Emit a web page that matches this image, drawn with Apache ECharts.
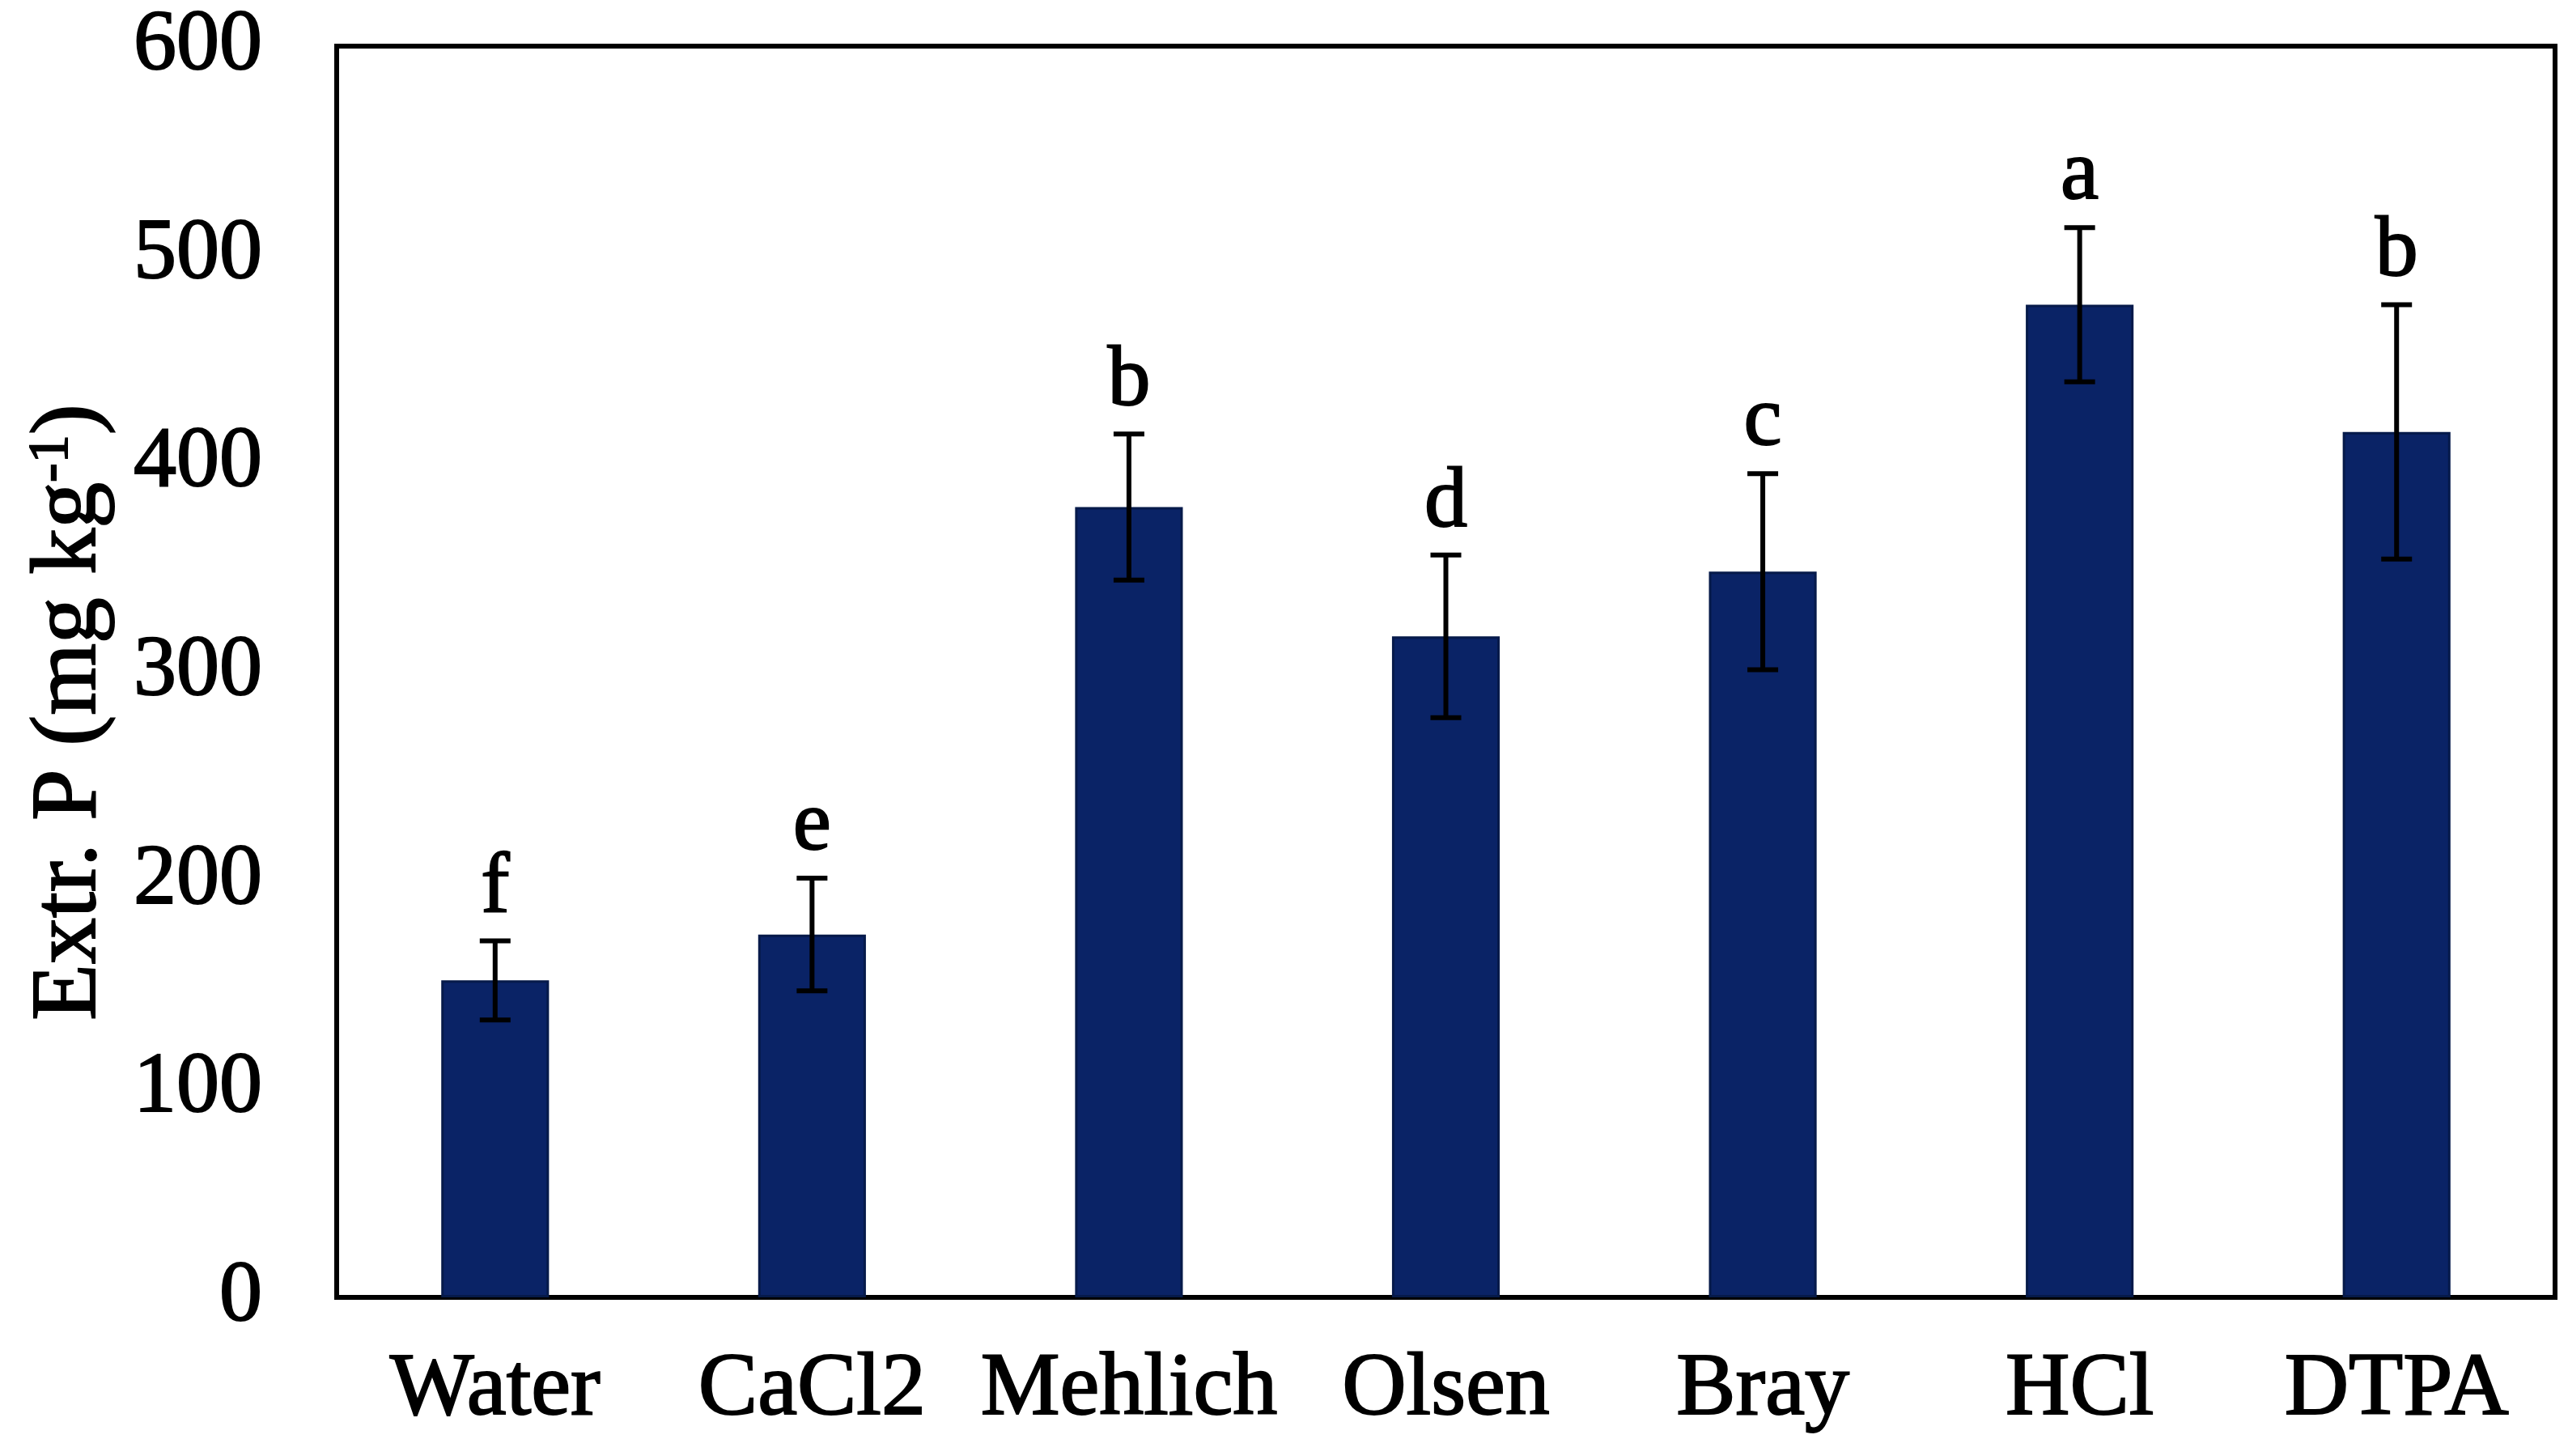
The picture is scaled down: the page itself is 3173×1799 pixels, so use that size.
<!DOCTYPE html>
<html>
<head>
<meta charset="utf-8">
<title>Extr. P</title>
<script src="https://cdn.jsdelivr.net/npm/echarts@6/dist/echarts.min.js"></script>
<style>
  html, body { margin: 0; padding: 0; background: #fff; }
  #chart { width: 3173px; height: 1799px; }
</style>
</head>
<body>
<div id="chart"></div>
<script>
// values
var categories = ['Water', 'CaCl2', 'Mehlich', 'Olsen', 'Bray', 'HCl', 'DTPA'];
var means = [152, 174, 379, 317, 348, 476, 415];
var errors = [19, 27, 35, 39, 47, 37, 61];
var letters = ['f', 'e', 'b', 'd', 'c', 'a', 'b'];
var yTicks = [0, 100, 200, 300, 400, 500, 600];

var SERIF = '"Liberation Serif", "Times New Roman", serif';

var chart = echarts.init(document.getElementById('chart'), null, { renderer: 'canvas' });

var errData = categories.map(function(c, i) {
  return [i, means[i] - errors[i], means[i] + errors[i]];
});

function renderErr(params, api) {
  var lo = api.coord([api.value(0), api.value(1)]);
  var hi = api.coord([api.value(0), api.value(2)]);
  var half = 19;
  var st = { stroke: '#000', lineWidth: 6 };
  return {
    type: 'group',
    children: [
      { type: 'line', shape: { x1: hi[0], y1: hi[1], x2: lo[0], y2: lo[1] }, style: st },
      { type: 'line', shape: { x1: hi[0] - half, y1: hi[1], x2: hi[0] + half, y2: hi[1] }, style: st },
      { type: 'line', shape: { x1: lo[0] - half, y1: lo[1], x2: lo[0] + half, y2: lo[1] }, style: st },
      {
        type: 'text',
        x: hi[0],
        y: hi[1] - 64,
        style: {
          text: letters[params.dataIndex],
          font: '106px ' + SERIF,
          fill: '#000',
          stroke: '#000',
          lineWidth: 2,
          align: 'center',
          verticalAlign: 'middle'
        }
      }
    ]
  };
}

var heavy = { textBorderColor: '#000', textBorderWidth: 2 };

chart.setOption({
  backgroundColor: '#fff',
  animation: false,
  grid: {
    left: 416, right: 16, top: 57, bottom: 196,
    show: true, borderColor: '#000', borderWidth: 6
  },
  xAxis: {
    type: 'category',
    data: categories,
    axisLine: { lineStyle: { color: '#000', width: 6 } },
    axisTick: { show: false },
    axisLabel: Object.assign({ interval: 0, color: '#000', fontSize: 110, fontFamily: SERIF, margin: 60 }, heavy)
  },
  yAxis: {
    type: 'value',
    min: yTicks[0],
    max: yTicks[yTicks.length - 1],
    interval: yTicks[1] - yTicks[0],
    splitLine: { show: false },
    axisTick: { show: false },
    axisLine: { show: true, lineStyle: { color: '#000', width: 6 } },
    axisLabel: Object.assign({ color: '#000', fontSize: 106, fontFamily: SERIF, margin: 92 }, heavy),
    name: '{a|Extr. P (mg kg}{s|-1}{a|)}',
    nameLocation: 'middle',
    nameRotate: 90,
    nameGap: 272,
    nameTextStyle: {
      padding: [0, 100, 0, 0],
      rich: {
        a: Object.assign({ fontSize: 114, fontFamily: SERIF, color: '#000' }, heavy),
        s: Object.assign({ fontSize: 70, fontFamily: SERIF, color: '#000', verticalAlign: 'top', padding: [0, 0, 40, 0] }, heavy)
      }
    }
  },
  series: [
    {
      type: 'bar',
      data: means,
      barWidth: '34%',
      itemStyle: { color: '#0a2366', borderColor: '#061a4a', borderWidth: 3 }
    },
    {
      type: 'custom',
      data: errData,
      renderItem: renderErr,
      z: 5
    }
  ]
});
</script>
</body>
</html>
